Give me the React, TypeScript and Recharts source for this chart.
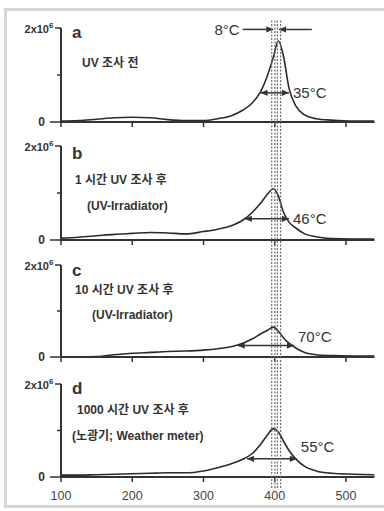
import React from "react";
import { LineChart, Line, XAxis, YAxis, ReferenceLine } from "recharts";

// temperature grid (°C) shared by all four traces
const temps = [100, 125, 150, 175, 200, 225, 250, 275, 300, 320, 340, 355, 368, 380, 390, 398, 405, 412, 420, 430, 442, 458, 480, 510, 540];

// intensity in units of 1e6
const beforeUV = [0.02, 0.03, 0.06, 0.09, 0.1, 0.09, 0.05, 0.03, 0.03, 0.07, 0.14, 0.25, 0.4, 0.64, 1.0, 1.38, 1.73, 1.42, 0.72, 0.33, 0.15, 0.07, 0.04, 0.02, 0.02];
const uv1h = [0.04, 0.06, 0.09, 0.12, 0.14, 0.16, 0.15, 0.13, 0.18, 0.23, 0.31, 0.42, 0.58, 0.78, 0.98, 1.09, 0.94, 0.6, 0.38, 0.25, 0.13, 0.07, 0.03, 0.02, 0.02];
const uv10h = [0.0, 0.0, 0.01, 0.05, 0.08, 0.1, 0.12, 0.13, 0.15, 0.18, 0.23, 0.3, 0.39, 0.5, 0.58, 0.65, 0.56, 0.42, 0.3, 0.19, 0.1, 0.05, 0.03, 0.02, 0.02];
const uv1000h = [0.04, 0.04, 0.05, 0.06, 0.07, 0.08, 0.09, 0.09, 0.13, 0.2, 0.29, 0.38, 0.5, 0.7, 0.91, 1.04, 0.97, 0.78, 0.57, 0.38, 0.23, 0.13, 0.08, 0.06, 0.05];

// width arrows: [from, to, height(1e6)] and label
const widthSpans = [
  [380, 420, 0.62],
  [358, 420, 0.45],
  [348, 427, 0.25],
  [361, 431, 0.39],
];
const widthLabels = ["35°C", "46°C", "70°C", "55°C"];

// dashed guide lines and the 8°C arrows
const guideTemps = [398, 406];
const shiftArrowFrom = [355, 452];
const shiftLabel = "8°C";

const xTicks = [100, 200, 300, 400, 500];
const yTicks = [0, 1e6, 2e6];

const panelLetters = ["a", "b", "c", "d"];
const panelNotes = [
  ["UV 조사 전"],
  ["1 시간 UV 조사 후", "(UV-Irradiator)"],
  ["10 시간 UV 조사 후", "(UV-Irradiator)"],
  ["1000 시간 UV 조사 후", "(노광기; Weather meter)"],
];

const series = [beforeUV, uv1h, uv10h, uv1000h];

const FONT = 'Arial, "Liberation Sans", "Noto Sans CJK KR", sans-serif';
const INK = "#333";
const W = 384;
const MARGIN_RIGHT = 9.5;
const AXIS_X = 61;

// layout of panels (plot top, plot height)
const layout = [
  { top: 28, h: 94, labelDy: 0, letterY: 33, notes: [{ x: 82, y: 63 }] },
  { top: 146, h: 94, labelDy: 0, letterY: 154, notes: [{ x: 75, y: 180 }, { x: 87, y: 206 }] },
  { top: 265, h: 92, labelDy: -9, letterY: 271, notes: [{ x: 75, y: 290 }, { x: 92, y: 315 }] },
  { top: 384, h: 93, labelDy: -12, letterY: 389, notes: [{ x: 77, y: 410 }, { x: 72, y: 436 }] },
];

const Arrow = (props: any) => {
  const { x1, y1, x2, y2, heads, label, labelAt, labelDy = 0 } = props;
  const len = 7;
  const half = 3.2;
  const dir = Math.sign(x2 - x1) || 1;
  const head = (x: number, y: number, d: number) => (
    <path d={`M${x},${y} L${x - d * len},${y - half} L${x - d * len},${y + half} Z`} fill={INK} />
  );
  return (
    <g>
      <line x1={x1} y1={y1} x2={x2} y2={y2} stroke={INK} strokeWidth={1.5} />
      {head(x2, y2, dir)}
      {heads === "both" && head(x1, y1, -dir)}
      {label && labelAt === "end" && (
        <text x={x2 + 4} y={y2 + labelDy} dy={5.5} fontSize={15} fill={INK} fontFamily={FONT}>
          {label}
        </text>
      )}
      {label && labelAt === "start" && (
        <text x={x1 - 3} y={y1} dy={5.5} fontSize={15} fill={INK} fontFamily={FONT} textAnchor="end">
          {label}
        </text>
      )}
    </g>
  );
};

const Dashed = (p: any) => (
  <g>
    <line x1={p.x1 - 1.6} x2={p.x2 - 1.6} y1={p.y1} y2={p.y2} stroke="#6e6e6e" strokeWidth={1.2} strokeDasharray="2 1.5" />
    <line x1={p.x1 + 1.6} x2={p.x2 + 1.6} y1={p.y1} y2={p.y2} stroke="#6e6e6e" strokeWidth={1.2} strokeDasharray="2 1.5" />
  </g>
);

const YTick = ({ x, y, payload }: any) => {
  const v = payload.value;
  if (v === 1e6) return <line x1={x - 4} x2={x} y1={y} y2={y} stroke={INK} strokeWidth={1.5} />;
  if (v === 2e6)
    return (
      <g>
        <line x1={x - 6} x2={x} y1={y} y2={y} stroke={INK} strokeWidth={1.5} />
        <text x={x - 12} y={y} dy={5} textAnchor="end" fontSize={11} fontWeight={700} fill={INK} fontFamily={FONT}>
          2x10
        </text>
        <text x={x - 12} y={y} dy={0} fontSize={8} fontWeight={700} fill={INK} fontFamily={FONT}>
          6
        </text>
      </g>
    );
  return (
    <g>
      <line x1={x - 11} x2={x} y1={y} y2={y} stroke={INK} strokeWidth={1.5} />
      <text x={x - 16} y={y} dy={4} textAnchor="end" fontSize={12} fontWeight={700} fill={INK} fontFamily={FONT}>
        0
      </text>
    </g>
  );
};

const EmptyTick = () => <g />;

function Panel({ idx }: { idx: number }) {
  const L = layout[idx];
  const last = idx === 3;
  const axisH = last ? 28 : 8;
  const data = temps.map((t, i) => ({ t, v: series[idx][i] * 1e6 }));
  const [from, to, hgt] = widthSpans[idx];
  return (
    <div style={{ position: "absolute", left: 0, top: L.top - 10 }}>
      <LineChart width={W} height={10 + L.h + axisH} data={data} margin={{ top: 10, right: MARGIN_RIGHT, left: 0, bottom: 0 }}>
        <XAxis
          dataKey="t"
          type="number"
          domain={[100, 540]}
          ticks={xTicks}
          allowDataOverflow
          height={axisH}
          tickSize={5}
          tickMargin={9}
          interval={0}
          axisLine={{ stroke: INK, strokeWidth: 2 }}
          tickLine={{ stroke: INK, strokeWidth: 1.5 }}
          tick={last ? { fill: "#444", fontSize: 12.5, fontFamily: FONT } : EmptyTick}
        />
        <YAxis
          type="number"
          domain={[0, 2e6]}
          ticks={yTicks}
          interval={0}
          width={AXIS_X}
          tickSize={0}
          tickMargin={0}
          tickLine={false}
          axisLine={{ stroke: INK, strokeWidth: 2 }}
          tick={YTick}
        />
        <Line type="monotone" dataKey="v" stroke="#2b2b2b" strokeWidth={1.6} dot={false} isAnimationActive={false} />
        <ReferenceLine
          segment={[{ x: from, y: hgt * 1e6 }, { x: to, y: hgt * 1e6 }]}
          shape={(p: any) => <Arrow {...p} heads="both" label={widthLabels[idx]} labelAt="end" labelDy={L.labelDy} />}
        />
        {idx === 0 && (
          <ReferenceLine
            segment={[{ x: shiftArrowFrom[0], y: 1.97e6 }, { x: guideTemps[0], y: 1.97e6 }]}
            shape={(p: any) => <Arrow {...p} heads="end" label={shiftLabel} labelAt="start" />}
          />
        )}
        {idx === 0 && (
          <ReferenceLine
            segment={[{ x: shiftArrowFrom[1], y: 1.97e6 }, { x: guideTemps[1], y: 1.97e6 }]}
            shape={(p: any) => <Arrow {...p} heads="end" />}
          />
        )}
      </LineChart>
    </div>
  );
}

function Guides() {
  return (
    <div style={{ position: "absolute", left: 0, top: 20, pointerEvents: "none" }}>
      <LineChart width={W} height={468} data={[{ t: 100, v: 0 }, { t: 540, v: 1 }]} margin={{ top: 0, right: MARGIN_RIGHT, left: AXIS_X, bottom: 0 }}>
        <XAxis dataKey="t" type="number" domain={[100, 540]} hide />
        <YAxis type="number" domain={[0, 1]} hide />
        <Line dataKey="v" stroke="none" dot={false} isAnimationActive={false} />
        {guideTemps.map((g) => (
          <ReferenceLine key={g} x={g} shape={Dashed} />
        ))}
      </LineChart>
    </div>
  );
}

export default function App() {
  return (
    <div style={{ position: "absolute", left: 0, top: 0, width: W, height: 511, overflow: "hidden", background: "#fff", fontFamily: FONT }}>
      <div style={{ position: "absolute", left: 4, top: 8, width: 420, height: 500, border: "3px solid #d6d6d6", boxSizing: "border-box" }} />
      {layout.map((_, i) => (
        <Panel key={i} idx={i} />
      ))}
      {layout.map((L, i) => (
        <React.Fragment key={"t" + i}>
          <div style={{ position: "absolute", left: 72, top: L.letterY - 9, fontSize: 17, lineHeight: "18px", fontWeight: 700, color: INK }}>
            {panelLetters[i]}
          </div>
          {panelNotes[i].map((n, j) => (
            <div
              key={j}
              style={{ position: "absolute", left: L.notes[j].x, top: L.notes[j].y - 7, fontSize: 12, lineHeight: "14px", fontWeight: 700, color: INK, whiteSpace: "nowrap" }}
            >
              {n}
            </div>
          ))}
        </React.Fragment>
      ))}
      <Guides />
    </div>
  );
}
